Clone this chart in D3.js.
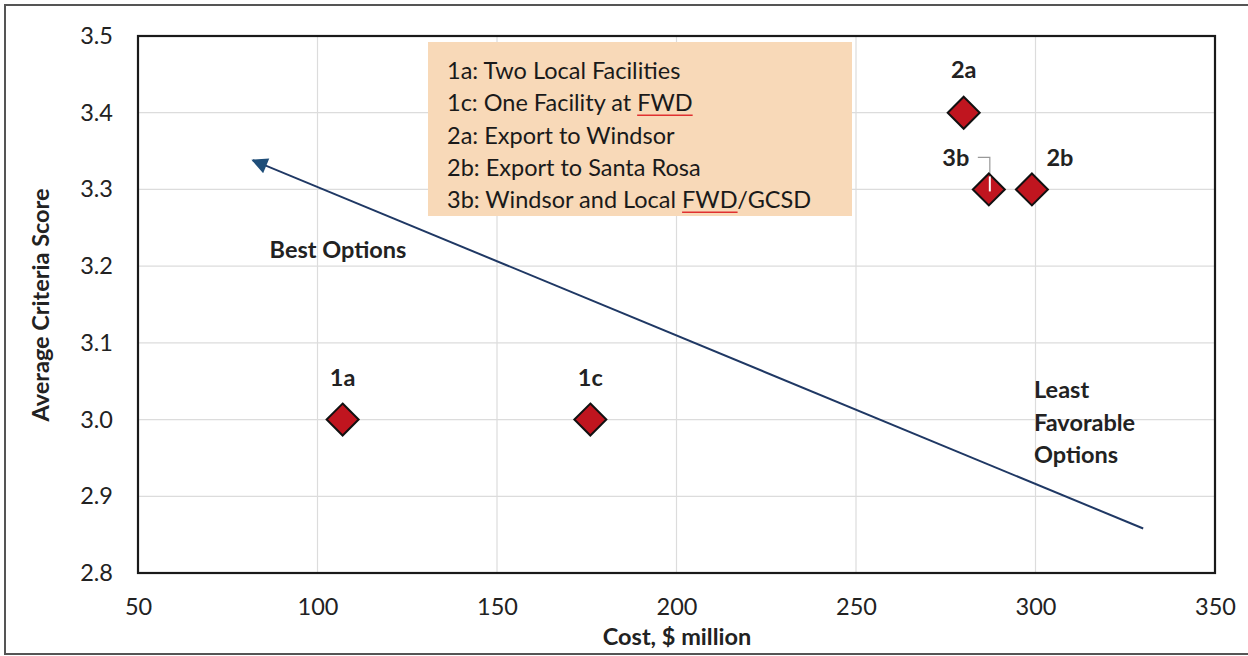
<!DOCTYPE html>
<html><head><meta charset="utf-8">
<script src="https://cdn.jsdelivr.net/npm/d3@7/dist/d3.min.js"></script>
<style>
html,body{margin:0;padding:0;background:#fff;}
svg{display:block;font-family:Lato,"Open Sans",sans-serif;}
</style></head>
<body><svg id="c" width="1248" height="656"></svg>
<script>
const labels = ["1a","1c","2a","3b","2b"];
const costs  = [107, 176, 280, 287, 299];
const scores = [3.0, 3.0, 3.4, 3.3, 3.3];
const legendLines = ["1a: Two Local Facilities","1c: One Facility at FWD","2a: Export to Windsor","2b: Export to Santa Rosa","3b: Windsor and Local FWD/GCSD"];
const xTicks = [50,100,150,200,250,300,350];
const yTicks = [2.8,2.9,3.0,3.1,3.2,3.3,3.4,3.5];
const arrowFrom = [330, 2.858];
const arrowTo = [82, 3.338];

const svg = d3.select("#c");
const L=138,R=1215,T=36,B=573;
const x = d3.scaleLinear().domain([50,350]).range([L,R]);
const y = d3.scaleLinear().domain([2.8,3.5]).range([B,T]);
const FS = 23.5;

// outer frame
svg.append("path").attr("d","M1248,5 H5 V654 H1248").attr("fill","none").attr("stroke","#555").attr("stroke-width",2);

// gridlines
const g = svg.append("g");
g.selectAll(".vx").data(xTicks.slice(1,-1)).join("line")
 .attr("x1",d=>x(d)).attr("x2",d=>x(d)).attr("y1",T).attr("y2",B)
 .attr("stroke","#dcdcdc").attr("stroke-width",1.2);
g.selectAll(".hy").data(yTicks.slice(1,-1)).join("line")
 .attr("x1",L).attr("x2",R).attr("y1",d=>y(d)).attr("y2",d=>y(d))
 .attr("stroke","#dcdcdc").attr("stroke-width",1.2);

// axes (labels only)
const xa = svg.append("g").attr("transform",`translate(0,${B})`)
 .call(d3.axisBottom(x).tickValues(xTicks).tickSize(0).tickPadding(25).tickFormat(d3.format("d")));
xa.select(".domain").remove();
xa.selectAll("text").attr("font-size",FS).attr("fill","#222").attr("font-family","Lato,sans-serif");
const ya = svg.append("g").attr("transform",`translate(${L},0)`)
 .call(d3.axisLeft(y).tickValues(yTicks).tickSize(0).tickPadding(25).tickFormat(d3.format(".1f")));
ya.select(".domain").remove();
ya.selectAll("text").attr("font-size",FS).attr("fill","#222").attr("font-family","Lato,sans-serif");

// plot frame
svg.append("rect").attr("x",L).attr("y",T).attr("width",R-L).attr("height",B-T)
 .attr("fill","none").attr("stroke","#1a1a1a").attr("stroke-width",2.2);

// axis titles
svg.append("text").attr("x",677).attr("y",645).attr("text-anchor","middle")
 .attr("font-size",FS).attr("font-weight","bold").attr("fill","#222").text("Cost, $ million");
svg.append("text").attr("transform","translate(49,305) rotate(-90)").attr("text-anchor","middle")
 .attr("font-size",FS).attr("font-weight","bold").attr("fill","#222").text("Average Criteria Score");

// legend box
const lb = svg.append("g");
lb.append("rect").attr("x",428).attr("y",42).attr("width",424).attr("height",174).attr("fill","#f8d9b8");
const LX=447, LY=79, LS=32.3;
legendLines.forEach((t,i)=>{
  lb.append("text").attr("x",LX).attr("y",LY+i*LS).attr("font-size",FS).attr("fill","#1a1a1a").text(t);
});
function underline(lineIdx, prefix, word){
  const tmp = lb.append("text").attr("font-size",FS).attr("visibility","hidden").text(prefix+word);
  const wAll = tmp.node().getComputedTextLength(); tmp.text(word);
  const w1 = tmp.node().getComputedTextLength(); tmp.remove();
  const w0 = wAll - w1;
  lb.append("line").attr("x1",LX+w0).attr("x2",LX+w0+w1)
    .attr("y1",LY+lineIdx*LS+4).attr("y2",LY+lineIdx*LS+4)
    .attr("stroke","#e03030").attr("stroke-width",1.5);
}
underline(1,"1c: One Facility at ","FWD");
underline(4,"3b: Windsor and Local ","FWD");

// arrow
svg.append("defs").append("marker").attr("id","ah").attr("viewBox","0 0 10 10")
 .attr("refX",9).attr("refY",5).attr("markerWidth",20).attr("markerHeight",16)
 .attr("markerUnits","userSpaceOnUse").attr("orient","auto")
 .append("path").attr("d","M0,0 L10,5 L0,10 z").attr("fill","#1f4e79");
svg.append("line").attr("x1",x(arrowFrom[0])).attr("y1",y(arrowFrom[1]))
 .attr("x2",x(arrowTo[0])).attr("y2",y(arrowTo[1]))
 .attr("stroke","#1f3864").attr("stroke-width",2).attr("marker-end","url(#ah)");

// annotations
svg.append("text").attr("x",338).attr("y",258).attr("text-anchor","middle")
 .attr("font-size",FS).attr("font-weight","bold").attr("fill","#222").text("Best Options");
["Least","Favorable","Options"].forEach((t,i)=>{
  svg.append("text").attr("x",1034).attr("y",398+i*32.5).attr("font-size",FS)
   .attr("font-weight","bold").attr("fill","#222").text(t);
});

// 3b leader line
const p3 = [x(costs[3]), y(scores[3])];
svg.append("path").attr("d",`M${p3[0]-11},${p3[1]-32} H${p3[0]+1} V${p3[1]-12}`)
 .attr("fill","none").attr("stroke","#999").attr("stroke-width",1.2);

// markers
const s = 16;
svg.selectAll(".pt").data(costs).join("path")
 .attr("d",(d,i)=>{const cx=x(d),cy=y(scores[i]);return `M${cx},${cy-s} L${cx+s},${cy} L${cx},${cy+s} L${cx-s},${cy} Z`;})
 .attr("fill","#c0151f").attr("stroke","#111").attr("stroke-width",2);
svg.append("line").attr("x1",p3[0]+1).attr("x2",p3[0]+1).attr("y1",p3[1]-13).attr("y2",p3[1]+2)
 .attr("stroke","#fff").attr("stroke-width",2);

// point labels
const off = {"1a":[0,-34],"1c":[0,-34],"2a":[0,-35],"3b":[-33,-23],"2b":[28,-23]};
svg.selectAll(".lbl").data(labels).join("text")
 .attr("x",(d,i)=>x(costs[i])+off[d][0]).attr("y",(d,i)=>y(scores[i])+off[d][1])
 .attr("text-anchor","middle").attr("font-size",FS).attr("font-weight","bold").attr("fill","#222")
 .text(d=>d);
</script></body></html>
